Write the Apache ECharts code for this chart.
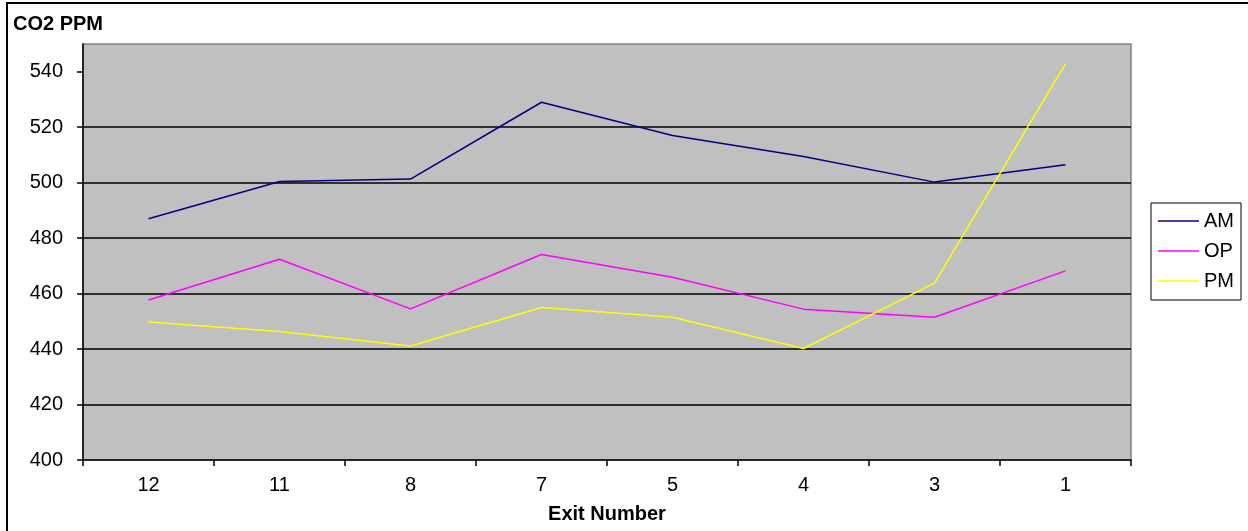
<!DOCTYPE html>
<html>
<head>
<meta charset="utf-8">
<script src="https://cdn.jsdelivr.net/npm/echarts@6/dist/echarts.min.js"></script>
<style>
html,body{margin:0;padding:0;background:#fff;}
#chart{width:1248px;height:531px;}
</style>
</head>
<body>
<div id="chart"></div>
<script>
const categories = ['12', '11', '8', '7', '5', '4', '3', '1'];
const amValues = [487, 500.4, 501.3, 529, 517, 509.4, 500.2, 506.5];
const opValues = [457.7, 472.4, 454.5, 474.1, 465.9, 454.4, 451.5, 468.2];
const pmValues = [449.8, 446.3, 441.1, 455, 451.5, 440.2, 463.8, 542.9];
const yTicks = [400, 420, 440, 460, 480, 500, 520, 540];
const yAxisTitle = 'CO2 PPM';
const xAxisTitle = 'Exit Number';

const FONT = 'Liberation Sans, Arial, sans-serif';
const chart = echarts.init(document.getElementById('chart'), null, {renderer: 'canvas'});

function mkSeries(name, data, color) {
  return {
    name: name, type: 'line', data: data, symbol: 'none',
    lineStyle: {color: color, width: 1.5}, itemStyle: {color: color},
    emphasis: {disabled: true}, z: 3
  };
}

chart.setOption({
  animation: false,
  backgroundColor: '#fff',
  textStyle: {fontFamily: FONT},
  grid: {
    left: 83, top: 44, right: 117, bottom: 71,
    show: true, backgroundColor: '#C0C0C0', borderColor: '#808080', borderWidth: 1.5
  },
  legend: {
    orient: 'vertical', left: 1151, top: 203,
    padding: [8, 7, 9, 7],
    icon: 'rect',
    itemWidth: 41, itemHeight: 1.5, itemGap: 10,
    borderColor: '#000', borderWidth: 1,
    backgroundColor: '#fff',
    textStyle: {fontFamily: FONT, fontSize: 20, color: '#000', lineHeight: 20},
    data: ['AM', 'OP', 'PM']
  },
  xAxis: {
    type: 'category', data: categories, boundaryGap: true,
    name: xAxisTitle, nameLocation: 'middle', nameGap: 44,
    nameTextStyle: {fontFamily: FONT, fontSize: 20, fontWeight: 'bold', color: '#000'},
    axisLine: {lineStyle: {color: '#000', width: 1.5}},
    axisTick: {show: true, inside: false, length: 6, alignWithLabel: false, lineStyle: {color: '#000', width: 1.5}},
    axisLabel: {fontFamily: FONT, fontSize: 20, color: '#000', margin: 15},
    splitLine: {show: false}
  },
  yAxis: {
    type: 'value', min: 400, max: 550, interval: 20,
    axisLine: {show: true, lineStyle: {color: '#000', width: 1.5}},
    axisTick: {show: true, inside: false, length: 6, lineStyle: {color: '#000', width: 1.5}, customValues: yTicks},
    axisLabel: {fontFamily: FONT, fontSize: 20, color: '#000', margin: 20, customValues: yTicks},
    splitLine: {show: true, showMinLine: false, showMaxLine: false, lineStyle: {color: '#000', width: 1.5}}
  },
  graphic: [
    {type: 'rect', shape: {x: 7, y: 3, width: 1400, height: 700}, style: {fill: 'none', stroke: '#000', lineWidth: 2}, silent: true},
    {type: 'text', x: 13, y: 24, style: {text: yAxisTitle, font: 'bold 20px ' + FONT, fill: '#000', verticalAlign: 'middle'}}
  ],
  series: [
    mkSeries('AM', amValues, '#000080'),
    mkSeries('OP', opValues, '#FF00FF'),
    mkSeries('PM', pmValues, '#FFFF00')
  ]
});
</script>
</body>
</html>
